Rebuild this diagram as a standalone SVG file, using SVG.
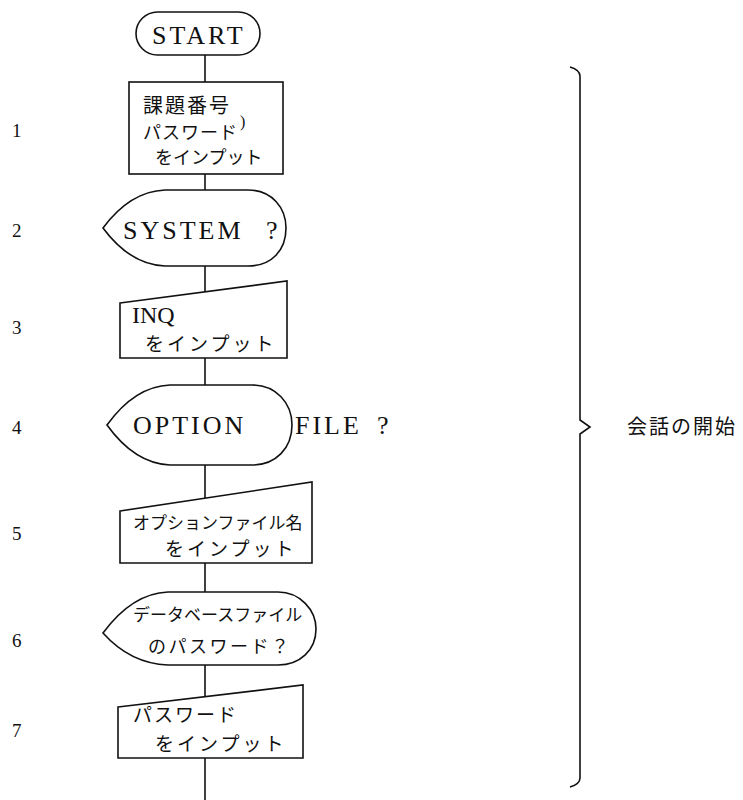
<svg xmlns="http://www.w3.org/2000/svg" width="743" height="800" viewBox="0 0 743 800">
<style>
.s{fill:none;stroke:#111;stroke-width:1.6}
.lat{font-family:"Liberation Serif","DejaVu Serif",serif;fill:#111}
.jp{font-family:"Noto Sans CJK JP",sans-serif;fill:#111}
.num{font-family:"Liberation Serif",serif;font-size:19px;fill:#111}
</style>
<rect width="743" height="800" fill="#fff"/>
<g id="connectors" class="s">
<line x1="205" y1="55" x2="205" y2="82"/>
<line x1="205" y1="174" x2="205" y2="190"/>
<line x1="205" y1="266" x2="205" y2="292"/>
<line x1="205" y1="358" x2="205" y2="385"/>
<line x1="205" y1="465" x2="205" y2="498"/>
<line x1="205" y1="563" x2="205" y2="592"/>
<line x1="205" y1="665" x2="205" y2="697"/>
<line x1="205" y1="758" x2="205" y2="800"/>
</g>
<g id="start">
<rect class="s" x="136" y="12" width="124" height="43" rx="21.5"/>
<text class="lat" x="152" y="44" font-size="26" letter-spacing="3">START</text>
</g>
<g id="n1">
<rect class="s" x="129" y="82" width="154" height="92"/>
<text class="jp" x="143" y="113" font-size="20" letter-spacing="2">課題番号</text>
<text class="lat" x="240" y="127" font-size="16">)</text>
<text class="jp" x="143" y="139" font-size="18" letter-spacing="1">パスワード</text>
<text class="jp" x="155" y="164" font-size="18">をインプット</text>
</g>
<g id="n2">
<path class="s" d="M103,228 C120,205 140,191 165,190 L248,190 C272,190 286,208 286,228 C286,250 272,266 248,266 L165,266 C140,265 120,251 103,228 Z"/>
<text class="lat" x="123" y="239" font-size="26" letter-spacing="3">SYSTEM <tspan x="266">?</tspan></text>
</g>
<g id="n3">
<polygon class="s" points="120,303 287,281 287,358 120,358"/>
<text class="lat" x="132" y="323" font-size="24">INQ</text>
<text class="jp" x="145" y="351" font-size="19" letter-spacing="3">をインプット</text>
</g>
<g id="n4">
<path class="s" d="M107,425 C125,400 145,386 170,385 L252,385 C276,385 292,403 292,425 C292,448 276,465 252,465 L170,465 C145,464 125,450 107,425 Z"/>
<text class="lat" x="133" y="434" font-size="26" letter-spacing="3">OPTION <tspan x="295">FILE</tspan> <tspan x="377">?</tspan></text>
</g>
<g id="n5">
<polygon class="s" points="120,511 312,482 312,563 120,563"/>
<text class="jp" x="133" y="529" font-size="17">オプションファイル名</text>
<text class="jp" x="165" y="556" font-size="19" letter-spacing="3">をインプット</text>
</g>
<g id="n6">
<path class="s" d="M103,633 C120,610 142,593 168,592 L278,592 C300,592 316,610 316,629 C316,650 300,665 278,665 L168,665 C142,664 120,652 103,633 Z"/>
<text class="jp" x="133" y="621" font-size="17">データベースファイル</text>
<text class="jp" x="148" y="653" font-size="18" letter-spacing="2.5">のパスワード？</text>
</g>
<g id="n7">
<polygon class="s" points="118,707 303,685 303,758 118,758"/>
<text class="jp" x="133" y="722" font-size="19" letter-spacing="2">パスワード</text>
<text class="jp" x="155" y="751" font-size="19" letter-spacing="3">をインプット</text>
</g>
<g id="labels">
<text class="num" x="12" y="137">1</text>
<text class="num" x="12" y="237">2</text>
<text class="num" x="12" y="334">3</text>
<text class="num" x="12" y="434">4</text>
<text class="num" x="12" y="540">5</text>
<text class="num" x="12" y="647">6</text>
<text class="num" x="12" y="737">7</text>
</g>
<g id="brace">
<path class="s" d="M570,67 Q580,70 580,76 L580,420 L590,427 L580,434 L580,778 Q580,784 570,787"/>
<text class="jp" x="627" y="434" font-size="20" letter-spacing="2">会話の開始</text>
</g>
</svg>
